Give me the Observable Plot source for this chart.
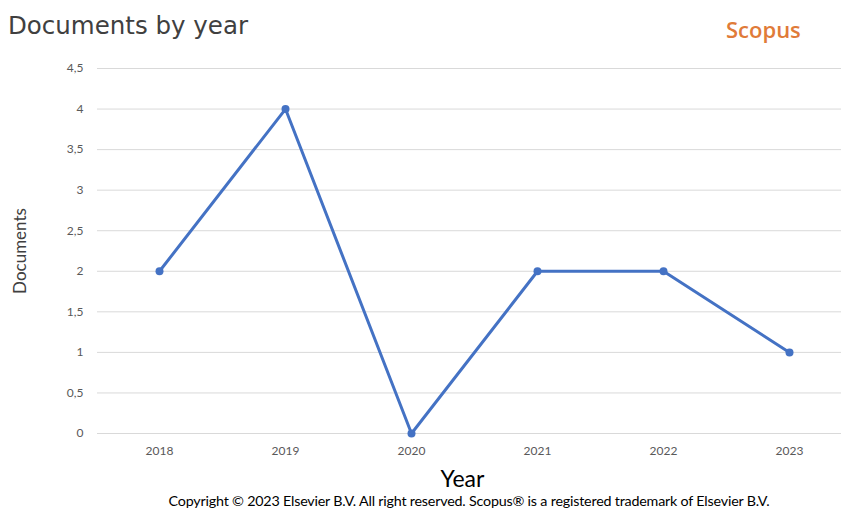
<!DOCTYPE html>
<html>
<head>
<meta charset="utf-8">
<script src="https://cdn.jsdelivr.net/npm/d3@7"></script>
<script src="https://cdn.jsdelivr.net/npm/@observablehq/plot@0.6"></script>
<style>
  html, body { margin: 0; padding: 0; background: #fff; }
  #wrap { position: relative; width: 841px; height: 509px; overflow: hidden; }
  #title { position: absolute; left: 8px; top: 11px; font-family: "DejaVu Sans", sans-serif; font-size: 24.5px; color: #404040; }
  #brand { position: absolute; left: 726px; top: 14px; font-family: "Open Sans", sans-serif; font-weight: 600; font-size: 22px; color: #E07B39; }
  #copy { position: absolute; left: 0; width: 938px; top: 492px; text-align: center; font-family: "Lato", sans-serif; font-size: 14.3px; color: #000; letter-spacing: -0.2px; }
  #chart { position: absolute; left: 0; top: 0; }
</style>
</head>
<body>
<div id="wrap">
  <div id="chart"></div>
  <div id="title">Documents by year</div>
  <div id="brand">Scopus</div>
  <div id="copy">Copyright © 2023 Elsevier B.V. All right reserved. Scopus® is a registered trademark of Elsevier B.V.</div>
</div>
<script>
const years = [2018, 2019, 2020, 2021, 2022, 2023];
const documents = [2, 4, 0, 2, 2, 1];
const yTicks = [0, 0.5, 1, 1.5, 2, 2.5, 3, 3.5, 4, 4.5];

const data = years.map((y, i) => ({year: y, docs: documents[i]}));
const fmt = d => String(d).replace(".", ",");

const chart = Plot.plot({
  width: 841,
  height: 509,
  marginLeft: 97,
  marginRight: 0,
  marginTop: 68,
  marginBottom: 76,
  style: {fontFamily: "Lato, sans-serif", background: "transparent"},
  x: {type: "point", domain: years, range: [159, 789], padding: 0},
  y: {domain: [0, 4.5], range: [433, 68]},
  marks: [
    Plot.gridY(yTicks, {stroke: "#d9d9d9", strokeOpacity: 1, strokeWidth: 1}),
    Plot.axisY(yTicks, {tickSize: 0, tickPadding: 14, tickFormat: fmt, fontSize: 12, fill: "#595959",
      label: "Documents", labelAnchor: "center", labelArrow: "none", labelOffset: 84}),
    Plot.axisX(years, {tickSize: 0, tickPadding: 13, tickFormat: d => String(d), fontSize: 12, fill: "#595959",
      label: null}),
    Plot.text(["Year"], {frameAnchor: "bottom", dx: -7, dy: 53, fontSize: 23, fill: "#000", fontFamily: "Lato, sans-serif"}),
    Plot.line(data, {x: "year", y: "docs", stroke: "#4472C4", strokeWidth: 3}),
    Plot.dot(data, {x: "year", y: "docs", r: 4, fill: "#4472C4", stroke: "none"})
  ]
});
document.getElementById("chart").appendChild(chart);
chart.querySelectorAll("g[aria-label='y-axis label'] text").forEach(t => {
  t.setAttribute("font-size", "17");
  t.setAttribute("fill", "#404040");
});
</script>
</body>
</html>
